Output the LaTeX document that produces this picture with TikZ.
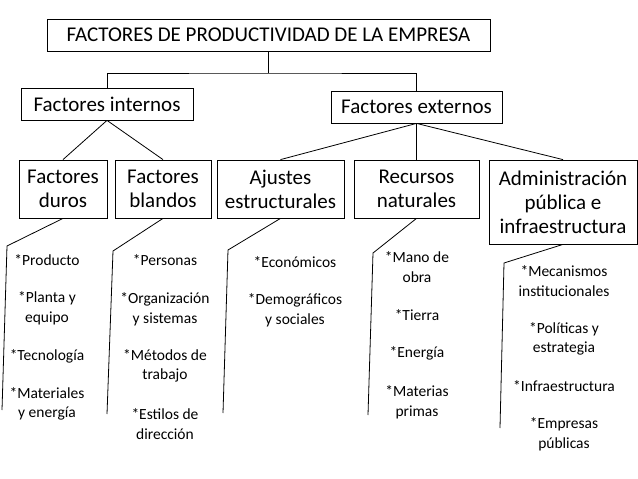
\documentclass[tikz,border=0pt]{standalone}
\usepackage{fontspec}
\setmainfont{Carlito}
\begin{document}
\begin{tikzpicture}[
    x=1pt, y=-1pt,
    box/.style={
        draw=black,
        line width=0.8pt,
        align=center,
        inner sep=0pt,
        font=\fontsize{21}{24}\selectfont
    },
    item/.style={
        align=center,
        inner sep=0pt,
        font=\fontsize{15.5}{19.5}\selectfont
    },
    link/.style={
        draw=black,
        line width=0.8pt
    }
]
\useasboundingbox (0,0) rectangle (638,479);

% Titulo
\node[box, minimum width=443, minimum height=32] (top) at (268.5,35)
    {FACTORES DE PRODUCTIVIDAD DE LA EMPRESA};

% Nivel 2
\node[box, minimum width=172, minimum height=32] (int) at (107,104) {Factores internos};
\node[box, minimum width=171, minimum height=32] (ext) at (416.5,107) {Factores externos};

% Nivel 3
\node[box, minimum width=88, minimum height=58] (duros) at (63,189) {Factores\\duros};
\node[box, minimum width=96, minimum height=58] (blandos) at (163,189) {Factores\\blandos};
\node[box, minimum width=127, minimum height=58] (ajustes) at (280.5,189) {Ajustes\\estructurales};
\node[box, minimum width=125, minimum height=58] (recursos) at (416.5,189) {Recursos\\naturales};
\node[box, minimum width=148, minimum height=84] (admin) at (563,202)
    {Administración\\pública e\\infraestructura};

% Conexiones
\coordinate (split) at (268.5,73);
\draw[link] (top.south) -- (split);
\draw[link] (int.north) |- (split) -| (ext.north);

\foreach \j in {duros,blandos}
    \draw[link] (int.south) -- (\j.north);
\foreach \j in {ajustes,recursos,admin}
    \draw[link] (ext.south) -- (\j.north);

% Corchetes
\coordinate (d1) at (7,246);   \coordinate (d2) at (2,410);
\coordinate (b1) at (113,251); \coordinate (b2) at (107,414);
\coordinate (a1) at (228,250); \coordinate (a2) at (223,413);
\coordinate (r1) at (373,253); \coordinate (r2) at (368,415);
\coordinate (p1) at (504,263); \coordinate (p2) at (500,428);

\draw[link] (duros.south) -- (d1) -- (d2);
\draw[link] (blandos.south) -- (b1) -- (b2);
\draw[link] (ajustes.south) -- (a1) -- (a2);
\draw[link] (recursos.south) -- (r1) -- (r2);
\draw[link] (admin.south) -- (p1) -- (p2);

% Factores duros
\node[item] (d-prod) at (47,260) {*Producto};
\node[item] (d-plan) at (47,308) {*Planta y\\equipo};
\node[item] (d-tec) at (47,356) {*Tecnología};
\node[item] (d-mat) at (47,404) {*Materiales\\y energía};

% Factores blandos
\node[item] (b-pers) at (165,260) {*Personas};
\node[item] (b-org) at (165,309) {*Organización\\y sistemas};
\node[item] (b-met) at (165,366) {*Métodos de\\trabajo};
\node[item] (b-est) at (165,424) {*Estilos de\\dirección};

% Ajustes estructurales
\node[item] (a-eco) at (295,262) {*Económicos};
\node[item] (a-dem) at (295,310) {*Demográficos\\y sociales};

% Recursos naturales
\node[item] (r-mano) at (417,267) {*Mano de\\obra};
\node[item] (r-tie) at (417,315) {*Tierra};
\node[item] (r-ene) at (417,353) {*Energía};
\node[item] (r-mat) at (417,402) {*Materias\\primas};

% Administracion publica
\node[item] (p-mec) at (564,281) {*Mecanismos\\institucionales};
\node[item] (p-pol) at (564,339) {*Políticas y\\estrategia};
\node[item] (p-inf) at (564,386) {*Infraestructura};
\node[item] (p-emp) at (564,434) {*Empresas\\públicas};

\end{tikzpicture}
\end{document}
